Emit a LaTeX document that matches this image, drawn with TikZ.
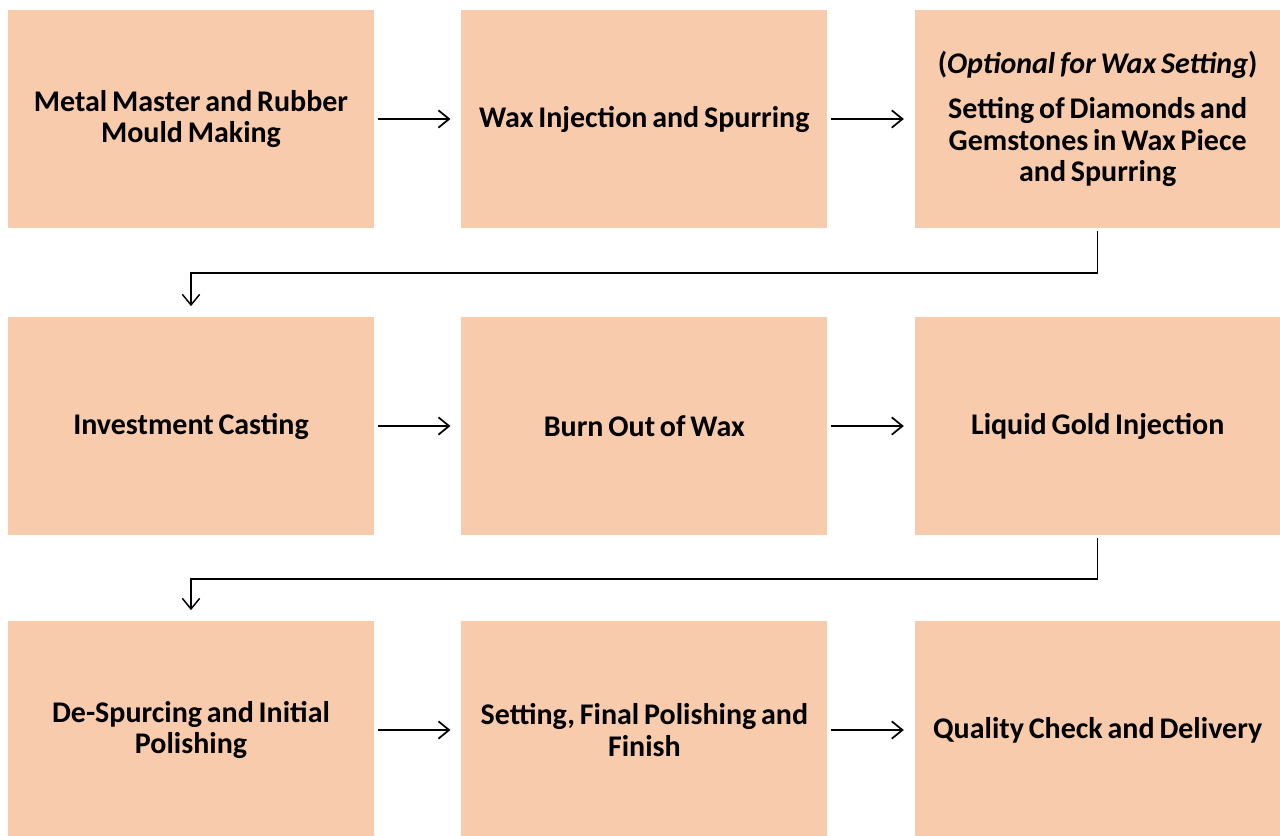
\documentclass[tikz,border=0pt]{standalone}
\usepackage{fontspec}
\setmainfont{Carlito}
\usetikzlibrary{arrows.meta,positioning}
\definecolor{peach}{HTML}{F8CBAD}

\begin{document}
\begin{tikzpicture}[x=0.75pt,y=-0.75pt,>={Straight Barb[length=8pt,width=13pt]},
                    line width=1.3pt,node distance=340pt,
                    main node/.style={rectangle,fill=peach,minimum width=274.5pt,minimum height=163.5pt,
                      text width=262pt,align=center,font=\fontsize{22.5}{23.8}\selectfont\bfseries,
                      execute at begin node={\spaceskip=0.16em\relax}}]
  \useasboundingbox (0,0) rectangle (1280,835);
  \node[main node] (1) at (191,119) {Metal Master and Rubber\\Mould Making};
  \node[main node] (2) [right of=1] {Wax Injection and Spurring};
  \node[main node] (3) [right of=2] {(\textit{Optional for Wax Setting})\\[10pt]Setting of Diamonds and\\Gemstones in Wax Piece\\and Spurring};
  \node[main node] (4) [below of=1,node distance=230.25pt] {Investment Casting};
  \node[main node] (5) [right of=4] {Burn Out of Wax};
  \node[main node] (6) [right of=5] {Liquid Gold Injection};
  \node[main node] (7) [below of=4,node distance=228pt] {De-Spurcing and Initial\\Polishing};
  \node[main node] (8) [right of=7] {Setting, Final Polishing and\\Finish};
  \node[main node] (9) [right of=8] {Quality Check and Delivery};
  \path[->,shorten <=2.25pt,shorten >=7.5pt]
    (1) edge (2)
    (2) edge (3)
    (4) edge (5)
    (5) edge (6)
    (7) edge (8)
    (8) edge (9);
  % row changes
  \draw[->,line width=1.1pt,shorten <=1.5pt,shorten >=7.5pt] (3.south) -- ++(0,44) -| (4.north);
  \draw[->,line width=1.1pt,shorten <=1.5pt,shorten >=7.5pt] (6.south) -- ++(0,43) -| (7.north);
\end{tikzpicture}
\end{document}
